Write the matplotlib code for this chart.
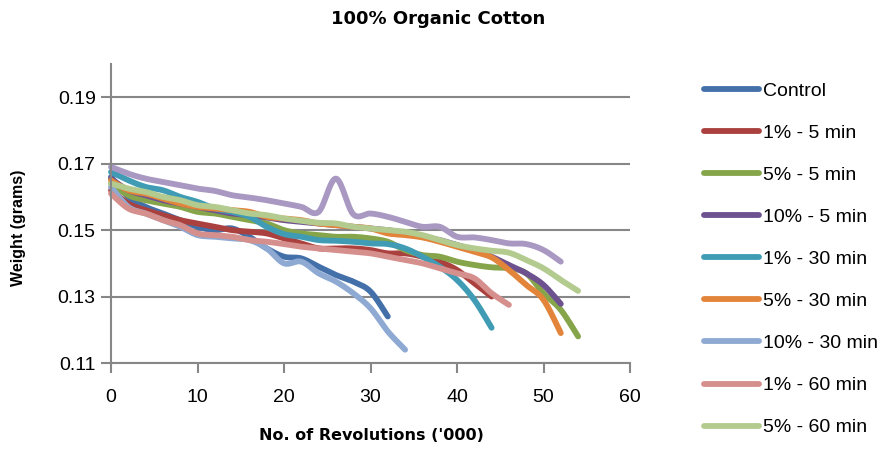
import numpy as np
import matplotlib
matplotlib.use("Agg")
import matplotlib.pyplot as plt
from matplotlib.lines import Line2D

# Thousands of revolutions at which each sample was weighed
revs_to_32 = [0, 2, 4, 6, 8, 10, 12, 14, 16, 18, 20, 22, 24, 26, 28, 30, 32]
revs_to_34 = revs_to_32 + [34]
revs_to_44 = revs_to_34 + [36, 38, 40, 42, 44]
revs_to_46 = revs_to_44 + [46]
revs_to_52 = revs_to_46 + [48, 50, 52]
revs_to_54 = revs_to_52 + [54]

# Weight (grams) per treatment
control = [0.166, 0.160, 0.157, 0.155, 0.153, 0.151, 0.150, 0.1505, 0.148,
           0.1445, 0.142, 0.1415, 0.139, 0.1365, 0.1345, 0.1315, 0.124]
p1_5min = [0.162, 0.158, 0.156, 0.1545, 0.153, 0.152, 0.151, 0.150, 0.1495,
           0.149, 0.1475, 0.146, 0.1445, 0.1445, 0.1445, 0.144, 0.143, 0.143,
           0.142, 0.1405, 0.138, 0.134, 0.130]
p5_5min = [0.164, 0.1605, 0.159, 0.158, 0.157, 0.1555, 0.155, 0.154, 0.153,
           0.152, 0.150, 0.149, 0.1485, 0.148, 0.148, 0.1475, 0.1465, 0.144,
           0.1425, 0.142, 0.1405, 0.1395, 0.1388, 0.1385, 0.137, 0.131, 0.126,
           0.118]
p10_5min = [0.1655, 0.162, 0.1605, 0.159, 0.158, 0.157, 0.156, 0.155, 0.1545,
            0.1538, 0.153, 0.1525, 0.152, 0.1515, 0.151, 0.1505, 0.150, 0.1492,
            0.148, 0.147, 0.1455, 0.144, 0.142, 0.1395, 0.137, 0.1335, 0.1278]
p1_30min = [0.1675, 0.165, 0.163, 0.162, 0.160, 0.1585, 0.1565, 0.1555, 0.154,
            0.151, 0.1488, 0.148, 0.147, 0.1468, 0.1465, 0.146, 0.1458, 0.1445,
            0.142, 0.139, 0.135, 0.129, 0.1206]
p5_30min = [0.165, 0.162, 0.161, 0.1595, 0.158, 0.157, 0.1565, 0.156, 0.1555,
            0.154, 0.1535, 0.153, 0.152, 0.1515, 0.151, 0.1505, 0.149, 0.1485,
            0.1478, 0.1465, 0.145, 0.1435, 0.1418, 0.138, 0.1335, 0.129, 0.119]
p10_30min = [0.163, 0.157, 0.155, 0.153, 0.151, 0.1485, 0.148, 0.1475, 0.147,
             0.1445, 0.140, 0.1405, 0.137, 0.1345, 0.131, 0.1265, 0.1195, 0.114]
p1_60min = [0.161, 0.1565, 0.155, 0.153, 0.1515, 0.149, 0.1485, 0.148, 0.147,
            0.1465, 0.1458, 0.145, 0.1445, 0.144, 0.1435, 0.143, 0.142, 0.141,
            0.140, 0.1385, 0.137, 0.1355, 0.131, 0.1275]
p5_60min = [0.164, 0.1625, 0.1615, 0.160, 0.159, 0.1575, 0.157, 0.156, 0.155,
            0.1545, 0.1535, 0.1528, 0.1522, 0.152, 0.151, 0.1505, 0.150, 0.1495,
            0.1485, 0.147, 0.1455, 0.1445, 0.1438, 0.1432, 0.141, 0.1385, 0.135,
            0.1317]
p10_60min = [0.169, 0.167, 0.1655, 0.1645, 0.1635, 0.1625, 0.1618, 0.1605,
             0.1598, 0.159, 0.158, 0.157, 0.1555, 0.1655, 0.1548, 0.155, 0.154,
             0.1525, 0.151, 0.151, 0.148, 0.1478, 0.147, 0.146, 0.1458, 0.144,
             0.1405]

series = [
    ("Control", revs_to_32, control, "#4470AA"),
    ("1% - 5 min", revs_to_44, p1_5min, "#AA413E"),
    ("5% - 5 min", revs_to_54, p5_5min, "#86A54A"),
    ("10% - 5 min", revs_to_52, p10_5min, "#6E5290"),
    ("1% - 30 min", revs_to_44, p1_30min, "#3F9CB4"),
    ("5% - 30 min", revs_to_52, p5_30min, "#E2843A"),
    ("10% - 30 min", revs_to_34, p10_30min, "#8EA9D2"),
    ("1% - 60 min", revs_to_46, p1_60min, "#D58F8D"),
    ("5% - 60 min", revs_to_54, p5_60min, "#B3CB8F"),
    ("10% - 60 min", revs_to_52, p10_60min, "#A898C2"),
]
legend_count = 9

x_ticks = [0, 10, 20, 30, 40, 50, 60]
y_ticks = [0.11, 0.13, 0.15, 0.17, 0.19]


def smooth(xs, ys, steps=24):
    """Bezier smoothing through every point (spreadsheet-style smoothed line)."""
    p = np.column_stack([xs, ys]).astype(float)
    n = len(p)
    out = [p[0]]
    t = np.linspace(0, 1, steps)[1:, None]
    for i in range(n - 1):
        p0 = p[i - 1] if i > 0 else p[i]
        p3 = p[i + 2] if i + 2 < n else p[i + 1]
        c1 = p[i] + (p[i + 1] - p0) / 6.0
        c2 = p[i + 1] - (p3 - p[i]) / 6.0
        seg = ((1 - t) ** 3) * p[i] + 3 * ((1 - t) ** 2) * t * c1 \
            + 3 * (1 - t) * t ** 2 * c2 + t ** 3 * p[i + 1]
        out.extend(seg)
    out = np.array(out)
    return out[:, 0], out[:, 1]


plt.rcParams['font.family'] = ['Liberation Sans', 'DejaVu Sans']

fig = plt.figure(figsize=(8.77, 4.5), dpi=100)
ax = fig.add_axes([111 / 877, 1 - 363 / 450, (630 - 111) / 877, (363 - 64) / 450])

grid_col = "#878787"
line_w = 4.2
handles = []
for name, xs, ys, col in series:
    sx, sy = smooth(xs, ys)
    ln, = ax.plot(sx, sy, color=col, lw=line_w, solid_capstyle='round',
                  solid_joinstyle='round', label=name, clip_on=False)
    handles.append(ln)

ax.set_xlim(0, 60)
ax.set_ylim(0.11, 0.20)
ax.set_xticks(x_ticks)
ax.set_yticks(y_ticks)
ax.set_yticklabels([f"{v:.2f}" for v in y_ticks])
ax.yaxis.grid(True, color=grid_col, lw=1.5)
ax.set_axisbelow(True)
for s in ("top", "right"):
    ax.spines[s].set_visible(False)
for s in ("left", "bottom"):
    ax.spines[s].set_color(grid_col)
    ax.spines[s].set_linewidth(1.5)
ax.tick_params(axis='both', direction='out', length=7, width=1.5,
               color=grid_col, labelsize=14, labelcolor='black')
ax.tick_params(axis='y', pad=4)
ax.tick_params(axis='x', pad=12)

ax.set_xlabel("No. of Revolutions ('000)", fontsize=11.5, fontweight='bold',
              family='DejaVu Sans')
ax.xaxis.set_label_coords((371 - 111) / 519, (363 - 428) / 299)
ax.set_ylabel("Weight (grams)", fontsize=11.5, fontweight='bold')
ax.yaxis.set_label_coords((26 - 111) / 519, (363 - 228) / 299)
fig.suptitle("100% Organic Cotton", x=0.5, y=0.978, fontsize=13, fontweight='bold',
             family='DejaVu Sans')

leg_handles = [Line2D([0], [0], color=h.get_color(), lw=line_w, solid_capstyle='round')
               for h in handles[:legend_count]]
fig.legend(leg_handles, [h.get_label() for h in handles[:legend_count]],
           loc='upper left', bbox_to_anchor=(704 / 877, 1 - 82 / 450),
           frameon=False, fontsize=14, handlelength=2.85, handletextpad=0.2,
           labelspacing=1.26, borderaxespad=0, borderpad=0)

fig.savefig("out.png", dpi=100, facecolor='white')
